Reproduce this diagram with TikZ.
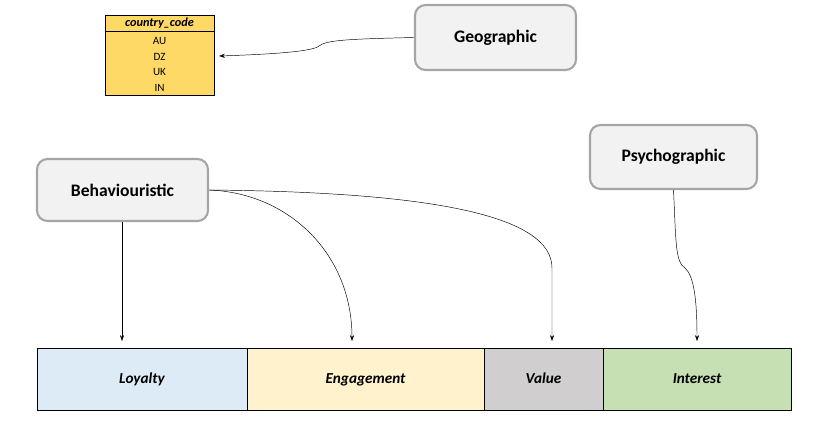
\documentclass[tikz,border=0pt]{standalone}
\usepackage{fontspec}
\setmainfont{Carlito}
\usetikzlibrary{positioning,arrows.meta}

\definecolor{boxfill}{HTML}{F2F2F2}
\definecolor{boxline}{HTML}{A5A5A5}
\definecolor{tabfill}{HTML}{FFD966}
\definecolor{loyfill}{HTML}{DDEBF7}
\definecolor{engfill}{HTML}{FFF2CC}
\definecolor{valfill}{HTML}{D0CECE}
\definecolor{intfill}{HTML}{C6E0B4}

\tikzset{
	segbox/.style={shape=rectangle,rounded corners=9pt,draw=boxline,line width=1.8pt,fill=boxfill,font=\bfseries\fontsize{15}{17}\selectfont},
	cell/.style={shape=rectangle,draw=black,line width=0.8pt,minimum height=1.86cm,inner sep=0pt,outer sep=0pt,text height=9pt,text depth=2pt,font=\bfseries\itshape\fontsize{13}{15}\selectfont},
	tabrow/.style={inner sep=0pt,font=\fontsize{9.5}{11}\selectfont},
	arr/.style={-{Stealth[length=5pt,width=3.5pt]},thin}
}

\begin{document}
\begin{tikzpicture}[x=0.03cm,y=-0.03cm]
	\useasboundingbox (0,0) rectangle (825,425);
	
	% country code table
	\node[shape=rectangle,draw=black,line width=0.8pt,fill=tabfill,minimum width=3.27cm,minimum height=0.48cm,inner sep=0pt,font=\bfseries\itshape\fontsize{10.5}{12}\selectfont] (head) at (159.5, 23) {country\_code};
	\node[shape=rectangle,draw=black,line width=0.8pt,fill=tabfill,minimum width=3.27cm,minimum height=1.92cm,inner sep=0pt,anchor=north] (body) at (head.south) {};
	\node[tabrow] (au) at (159.5, 41) {AU};
	\node[tabrow] (dz) at (159.5, 57) {DZ};
	\node[tabrow] (uk) at (159.5, 72) {UK};
	\node[tabrow] (in) at (159.5, 88) {IN};
	
	% segment boxes
	\node[segbox,minimum width=4.83cm,minimum height=1.95cm] (geo) at (495.5, 37.5) {Geographic};
	\node[segbox,minimum width=5.13cm,minimum height=1.86cm] (beh) at (122.5, 190) {Behaviouristic};
	\node[segbox,minimum width=5.01cm,minimum height=1.92cm] (psy) at (673.5, 157) {Psychographic};
	
	% bottom bar
	\node[cell,fill=loyfill,minimum width=6.3cm] (loyal) at (142, 379) {Loyalty};
	\node[cell,fill=engfill,minimum width=7.11cm,right=0pt of loyal] (engage) {Engagement};
	\node[cell,fill=valfill,minimum width=3.57cm,right=0pt of engage] (value) {Value};
	\node[cell,fill=intfill,minimum width=5.64cm,right=0pt of value] (interest) {Interest};
	
	\coordinate (dzin) at (219, 56);
	\coordinate (loyin) at (122, 341);
	\coordinate (engin) at (352, 341);
	\coordinate (valin) at (552, 341);
	\coordinate (intin) at (697, 341);
	
	\draw[arr] (geo.west) .. controls (350,39) and (326,40) .. (319,46) .. controls (313,51) and (280,54) .. (dzin);
	\draw[arr] (beh.south -| loyin) -- (loyin);
	\draw[arr] (beh.east) .. controls (290,193) and (352,255) .. (engin);
	\draw[arr] (beh.east) .. controls (430,192) and (552,215) .. (552,268) -- (valin);
	\draw[arr] (psy.south) .. controls (676,240) and (675,262) .. (685,268) .. controls (694,276) and (697,300) .. (intin);
	
\end{tikzpicture}
\end{document}
